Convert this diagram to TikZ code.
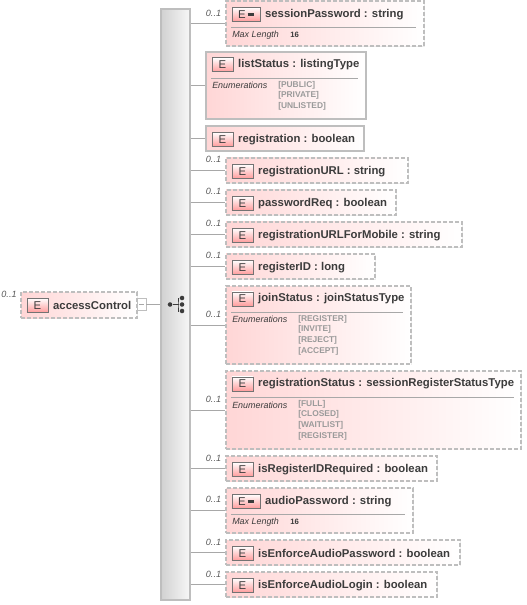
\documentclass[tikz,border=0pt]{standalone}
\usepackage{fontspec}
\setmainfont{Liberation Sans}
\usepackage{xcolor}
\usetikzlibrary{positioning, shadows, calc}
\definecolor{XSD_Pink}{HTML}{FFD6D6}
\definecolor{XSD_Red}{HTML}{FF9C9C}
\definecolor{XSD_Border}{HTML}{BEBEBE}
\definecolor{XSD_Line}{HTML}{A8A8A8}
\definecolor{XSD_Text}{HTML}{3C3C3C}
\definecolor{XSD_Enum}{HTML}{9A9A9A}
\tikzset{
    elemsolid/.style={draw=XSD_Border, line width=0.85pt, left color=XSD_Pink, right color=white, inner sep=0pt,
        drop shadow={shadow xshift=1pt, shadow yshift=-1pt, fill=black!15}},
    elemdash/.style={elemsolid, dash pattern=on 3pt off 1.5pt},
    badge/.style={draw=black!55, line width=0.5pt, top color=white, bottom color=XSD_Red, inner sep=0pt,
        minimum width=15.8pt, minimum height=10.5pt, font=\fontsize{8.5}{9}\selectfont, text=XSD_Text, anchor=north west},
    badgewide/.style={badge, minimum width=21pt},
    title/.style={font=\fontsize{8.5}{10}\bfseries\selectfont, text=XSD_Text, inner sep=0pt, anchor=west},
    occurs/.style={font=\fontsize{6.8}{8}\itshape\selectfont, text=XSD_Text!85, inner sep=0pt},
    facet/.style={font=\fontsize{6.7}{8}\itshape\selectfont, text=XSD_Text, inner sep=0pt, anchor=west},
    facetval/.style={font=\fontsize{5.8}{8}\bfseries\selectfont, text=XSD_Text, inner sep=0pt, anchor=west},
    enumval/.style={font=\fontsize{6.3}{8}\bfseries\selectfont, text=XSD_Enum, inner sep=0pt, anchor=west},
    seqdot/.style={circle, fill=XSD_Text, inner sep=0pt, minimum size=3.4pt},
    conn/.style={draw=XSD_Line, line width=0.6pt},
    sepline/.style={draw=XSD_Line, line width=0.6pt},
}
\begin{document}
\begin{tikzpicture}[x=0.75pt, y=-0.75pt]
    \useasboundingbox (0,0) rectangle (526,605);

    % ===== Sequence bar =====
    \node[draw=XSD_Border, line width=0.85pt, left color=black!18, right color=black!3, inner sep=0pt,
        minimum width=21.75pt, minimum height=443.25pt,
        drop shadow={shadow xshift=1pt, shadow yshift=-1pt, fill=black!15}] (seqbar) at (175.5,304.5) {};

    % ===== Root element =====
    \node[elemdash, minimum width=87pt, minimum height=19.5pt] (accessControl) at (79,305) {};
    \node[badge, minimum width=15.8pt] (accessControlE) at (26.5,298) {E};
    \node[title, right=3.5pt of accessControlE] (accessControlT) {accessControl};
    \node[occurs] (accessControlO) at (9,294) {0..1};
    \node[draw=XSD_Border, line width=0.6pt, fill=white, minimum width=6.8pt, minimum height=9.5pt, inner sep=0pt] (minusbox) at (141.5,304.5) {};
    \node[inner sep=0pt, minimum width=3.6pt, minimum height=0.6pt, fill=XSD_Line] (minusbar) at (141.5,304.5) {};
    \draw[conn] (minusbox) -- (minusbox -| seqbar.west);

    % Sequence symbol
    \node[seqdot] (seqroot) at (170,304.5) {};
    \node[seqdot] (seqtop) at (182,298) {};
    \node[seqdot] (seqmid) at (182,304.5) {};
    \node[seqdot] (seqbot) at (182,311) {};
    \coordinate (seqfork) at (178,304.5);
    \draw[line width=0.7pt, XSD_Text] (seqroot) -- (seqmid);
    \draw[line width=0.7pt, XSD_Text] (seqtop) -| (seqfork) |- (seqbot);

    % ===== Elements with only a title =====
    \foreach \elemname/\xa/\ya/\xb/\yb/\elemstyle/\elemtext in {
        registration/206/126/364/151/elemsolid/registration : boolean,
        registrationURL/226/158/408/183/elemdash/registrationURL : string,
        passwordReq/226/190/396/215/elemdash/passwordReq : boolean,
        registrationURLForMobile/226/222/462/247/elemdash/registrationURLForMobile : string,
        registerID/226/254/375/279/elemdash/registerID : long,
        isRegisterIDRequired/226/456/437/481/elemdash/isRegisterIDRequired : boolean,
        isEnforceAudioPassword/226/540/460/565/elemdash/isEnforceAudioPassword : boolean,
        isEnforceAudioLogin/226/572/437/597/elemdash/isEnforceAudioLogin : boolean} {
        \node[\elemstyle, minimum width={(\xb-\xa)*0.75pt}, minimum height={(\yb-\ya)*0.75pt}] (\elemname) at ({(\xa+\xb)/2},{(\ya+\yb)/2}) {};
        \node[badge] (\elemname E) at (\xa+5.5,\ya+6) {E};
        \node[title, right=3.5pt of \elemname E] (\elemname T) {\elemtext};
        \draw[conn] (seqbar.east |- \elemname.west) -- (\elemname.west);
    }

    % ===== Elements with a max length =====
    \foreach \elemname/\xa/\ya/\xb/\yb/\elemtext in {
        sessionPassword/226/1/424/46/sessionPassword : string,
        audioPassword/226/488/413/533/audioPassword : string} {
        \node[elemdash, minimum width={(\xb-\xa)*0.75pt}, minimum height={(\yb-\ya)*0.75pt}] (\elemname) at ({(\xa+\xb)/2},{(\ya+\yb)/2}) {};
        \node[badgewide] (\elemname E) at (\xa+5.5,\ya+6) {E\,\rule[2pt]{4.5pt}{1.6pt}};
        \node[title, right=3.5pt of \elemname E] (\elemname T) {\elemtext};
        \draw[sepline] (\xa+5,\ya+26.5) -- (\xb-8,\ya+26.5);
        \node[facet] (\elemname F) at (\xa+6,\ya+34.5) {Max Length};
        \node[facetval] (\elemname V) at (\xa+64,\ya+33.5) {16};
        \draw[conn] (seqbar.east |- \elemname.west) -- (\elemname.west);
    }

    % ===== Elements with enumerations =====
    \node[elemsolid, minimum width=120pt, minimum height=50.25pt] (listStatus) at (286,85.5) {};
    \node[badge] (listStatusE) at (211.5,57.5) {E};
    \node[title, right=3.5pt of listStatusE] (listStatusT) {listStatus : listingType};
    \draw[sepline] (211,78) -- (358,78);
    \node[facet] (listStatusF) at (212,85.5) {Enumerations};
    \node[enumval] (listStatusA) at (278,85) {[PUBLIC]};
    \node[enumval] (listStatusB) at (278,95.5) {[PRIVATE]};
    \node[enumval] (listStatusC) at (278,106) {[UNLISTED]};
    \draw[conn] (seqbar.east |- listStatus.west) -- (listStatus.west);

    \node[elemdash, minimum width=138.75pt, minimum height=58.5pt] (joinStatus) at (318.5,325) {};
    \node[badge] (joinStatusE) at (231.5,291.5) {E};
    \node[title, right=3.5pt of joinStatusE] (joinStatusT) {joinStatus : joinStatusType};
    \draw[sepline] (231,312) -- (403,312);
    \node[facet] (joinStatusF) at (232,319.5) {Enumerations};
    \node[enumval] (joinStatusA) at (298,319) {[REGISTER]};
    \node[enumval] (joinStatusB) at (298,329.5) {[INVITE]};
    \node[enumval] (joinStatusC) at (298,340.5) {[REJECT]};
    \node[enumval] (joinStatusD) at (298,351) {[ACCEPT]};
    \draw[conn] (seqbar.east |- joinStatus.west) -- (joinStatus.west);

    \node[elemdash, minimum width=221.25pt, minimum height=58.5pt] (registrationStatus) at (373.5,410) {};
    \node[badge] (registrationStatusE) at (231.5,376.5) {E};
    \node[title, right=3.5pt of registrationStatusE] (registrationStatusT) {registrationStatus : sessionRegisterStatusType};
    \draw[sepline] (231,397.5) -- (514,397.5);
    \node[facet] (registrationStatusF) at (232,405) {Enumerations};
    \node[enumval] (registrationStatusA) at (298,404) {[FULL]};
    \node[enumval] (registrationStatusB) at (298,414.5) {[CLOSED]};
    \node[enumval] (registrationStatusC) at (298,425.5) {[WAITLIST]};
    \node[enumval] (registrationStatusD) at (298,436) {[REGISTER]};
    \draw[conn] (seqbar.east |- registrationStatus.west) -- (registrationStatus.west);

    % ===== Occurrence labels =====
    \foreach \elemname/\ypos in {sessionPassword/13, registrationURL/159, passwordReq/191, registrationURLForMobile/223,
        registerID/255, joinStatus/314, registrationStatus/399, isRegisterIDRequired/458, audioPassword/499,
        isEnforceAudioPassword/542, isEnforceAudioLogin/574} {
        \node[occurs] (\elemname O) at (213.5,\ypos) {0..1};
    }
\end{tikzpicture}
\end{document}
